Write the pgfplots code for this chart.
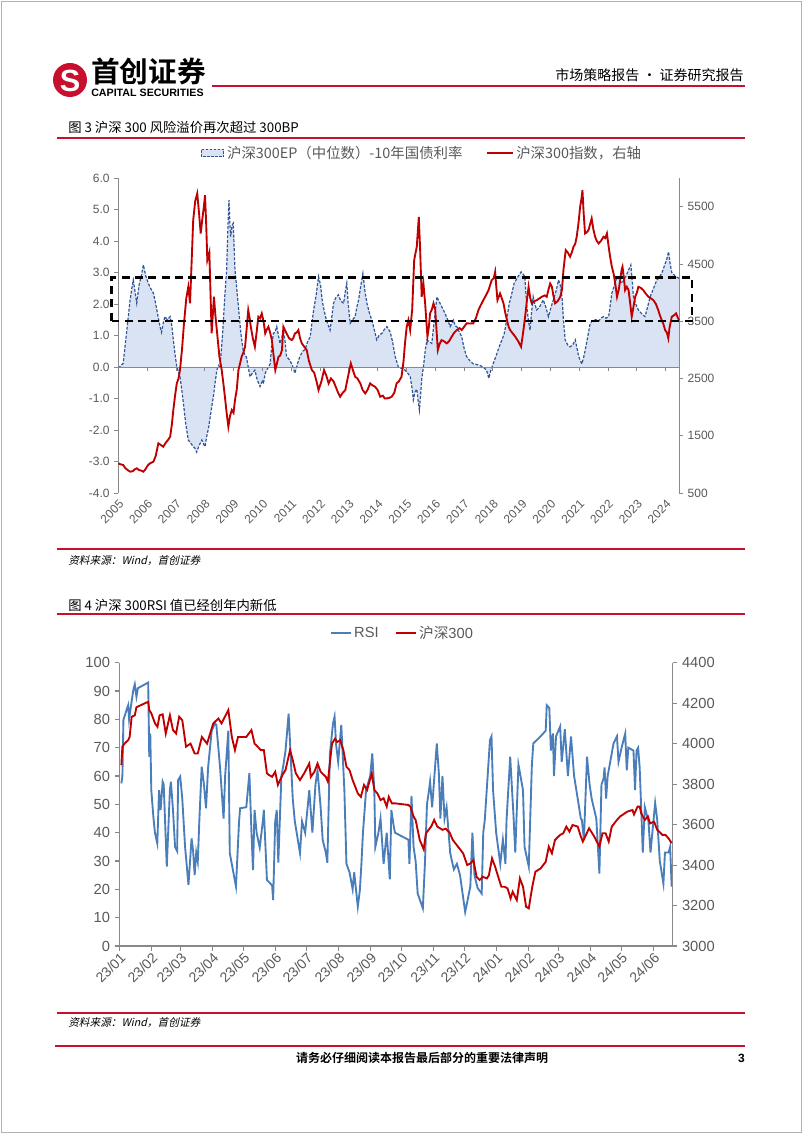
\documentclass[border=0pt]{standalone}
\usepackage{fontspec}
\setmainfont{Liberation Sans}
\newfontfamily\cjk{Noto Sans CJK SC}[BoldFont={Noto Sans CJK SC Bold}]
\newfontfamily\cjkit{Noto Sans CJK SC}[FakeSlant=0.22]
\usepackage{pgfplots}
\usepackage{pgfplotstable}
\pgfplotsset{compat=1.18}
\pgfplotsset{/pgf/number format/assume math mode=true, /pgf/number format/1000 sep={}}

\definecolor{hdred}{HTML}{C8102E}
\definecolor{idxred}{HTML}{C00000}
\definecolor{epblue}{HTML}{2F5597}
\definecolor{epfill}{HTML}{DAE3F3}
\definecolor{rsiblue}{HTML}{4A7EBB}
\definecolor{axgray}{HTML}{898989}
\definecolor{txtgray}{HTML}{595959}

% HS300 EP (median) minus 10y bond yield, %
\pgfplotstableread{
x y
2005.00 -0.04
2005.10 0.05
2005.17 0.12
2005.30 1.2
2005.41 2.13
2005.47 2.5
2005.52 2.76
2005.58 2.4
2005.64 2.03
2005.72 2.6
2005.80 2.9
2005.87 3.24
2005.95 2.9
2006.04 2.66
2006.12 2.5
2006.22 2.34
2006.30 2.0
2006.38 1.6
2006.45 1.28
2006.50 1.1
2006.56 1.4
2006.62 1.6
2006.70 1.5
2006.80 1.6
2006.86 1.3
2006.91 0.86
2006.97 0.4
2007.03 0.0
2007.14 -0.31
2007.20 -0.7
2007.26 -1.15
2007.34 -1.8
2007.43 -2.32
2007.50 -2.4
2007.58 -2.5
2007.66 -2.58
2007.72 -2.70
2007.80 -2.5
2007.90 -2.32
2007.96 -2.45
2008.01 -2.53
2008.07 -2.2
2008.13 -1.95
2008.22 -1.4
2008.30 -0.94
2008.36 -0.5
2008.42 -0.1
2008.48 0.05
2008.53 0.0
2008.60 0.8
2008.65 1.49
2008.70 2.3
2008.76 3.08
2008.80 4.3
2008.84 5.3
2008.87 4.6
2008.90 4.14
2008.95 4.5
2008.99 4.56
2009.02 3.8
2009.05 3.08
2009.11 2.5
2009.17 1.91
2009.25 1.1
2009.34 0.49
2009.45 0.3
2009.51 0.0
2009.57 -0.31
2009.65 -0.2
2009.74 -0.1
2009.82 -0.4
2009.92 -0.62
2010.00 -0.45
2010.04 -0.5
2010.10 -0.2
2010.15 -0.1
2010.27 0.1
2010.32 0.6
2010.38 1.07
2010.44 1.1
2010.50 1.28
2010.56 1.0
2010.61 0.75
2010.67 0.9
2010.73 1.17
2010.79 0.8
2010.84 0.33
2010.92 0.25
2011.02 0.1
2011.08 -0.05
2011.13 -0.2
2011.22 0.1
2011.30 0.33
2011.40 0.5
2011.48 0.55
2011.57 0.8
2011.66 0.96
2011.72 1.4
2011.78 1.81
2011.87 2.3
2011.95 2.87
2012.02 2.6
2012.08 2.1
2012.14 1.81
2012.22 1.5
2012.30 1.3
2012.35 1.17
2012.41 1.6
2012.47 2.02
2012.55 2.2
2012.64 2.29
2012.72 2.1
2012.82 2.02
2012.88 2.4
2012.93 2.66
2012.98 2.0
2013.05 1.39
2013.13 1.5
2013.22 1.6
2013.28 1.9
2013.34 2.13
2013.42 2.6
2013.49 2.97
2013.56 2.4
2013.63 2.02
2013.72 1.7
2013.80 1.49
2013.88 1.2
2013.97 0.86
2014.05 1.0
2014.15 1.07
2014.24 1.2
2014.32 1.28
2014.38 1.2
2014.44 1.1
2014.52 0.8
2014.61 0.33
2014.67 0.15
2014.72 0.0
2014.84 -0.05
2014.95 -0.1
2015.05 -0.2
2015.13 -0.3
2015.20 -0.7
2015.24 -1.05
2015.30 -0.8
2015.36 -0.7
2015.41 -1.1
2015.45 -1.37
2015.50 -0.8
2015.53 -0.4
2015.59 0.0
2015.65 0.5
2015.71 0.86
2015.80 0.8
2015.88 0.75
2015.97 1.5
2016.06 2.23
2016.12 2.1
2016.18 2.0
2016.26 1.85
2016.34 1.7
2016.43 1.5
2016.52 1.28
2016.58 1.4
2016.63 1.49
2016.70 1.3
2016.75 1.28
2016.84 1.1
2016.92 0.96
2017.00 0.6
2017.09 0.33
2017.20 0.2
2017.32 0.1
2017.44 0.08
2017.55 0.05
2017.66 0.0
2017.78 -0.1
2017.86 -0.36
2017.93 -0.1
2018.05 0.2
2018.13 0.4
2018.22 0.64
2018.31 0.85
2018.40 1.07
2018.48 1.5
2018.57 2.02
2018.65 2.3
2018.74 2.66
2018.86 2.85
2018.98 3.02
2019.05 2.95
2019.11 2.87
2019.17 2.02
2019.23 1.5
2019.29 1.17
2019.35 1.8
2019.40 2.23
2019.46 2.0
2019.52 1.81
2019.62 1.9
2019.75 2.13
2019.84 1.9
2019.93 1.6
2020.02 1.9
2020.10 2.13
2020.19 2.4
2020.28 2.76
2020.34 2.6
2020.40 2.23
2020.45 1.5
2020.51 0.86
2020.60 0.7
2020.68 0.64
2020.77 0.7
2020.86 0.86
2020.92 0.6
2020.98 0.33
2021.04 0.2
2021.09 0.1
2021.15 0.3
2021.21 0.55
2021.30 1.0
2021.38 1.39
2021.44 1.45
2021.50 1.49
2021.58 1.5
2021.67 1.45
2021.75 1.55
2021.84 1.6
2021.93 1.55
2022.02 1.6
2022.08 2.0
2022.13 2.34
2022.22 2.6
2022.31 2.87
2022.40 2.75
2022.48 2.66
2022.57 2.8
2022.66 2.97
2022.72 3.1
2022.79 3.24
2022.84 2.7
2022.88 2.23
2022.96 2.0
2023.05 1.81
2023.16 1.7
2023.28 1.6
2023.37 1.9
2023.46 2.23
2023.58 2.5
2023.69 2.76
2023.78 2.85
2023.86 2.97
2023.95 3.2
2024.03 3.4
2024.10 3.66
2024.15 3.3
2024.21 3.0
2024.27 2.95
2024.33 2.87
2024.40 2.85
2024.46 2.81
}\eptable

% HS300 index (right axis)
\pgfplotstableread{
x y
2005.00 1018
2005.08 1000
2005.17 989
2005.25 930
2005.33 900
2005.41 872
2005.50 880
2005.56 910
2005.64 931
2005.72 900
2005.80 890
2005.87 872
2005.95 920
2006.02 980
2006.10 1018
2006.22 1047
2006.30 1150
2006.39 1367
2006.47 1340
2006.56 1308
2006.65 1380
2006.73 1430
2006.80 1483
2006.86 1700
2006.91 1949
2006.97 2200
2007.03 2414
2007.09 2500
2007.14 2646
2007.21 3000
2007.28 3462
2007.36 3900
2007.43 4100
2007.49 3811
2007.55 4600
2007.60 5264
2007.67 5600
2007.74 5730
2007.80 5400
2007.86 5032
2007.92 5300
2007.97 5500
2008.01 5700
2008.05 5200
2008.09 4566
2008.16 4700
2008.24 3287
2008.32 3926
2008.37 3600
2008.42 3345
2008.51 2879
2008.59 2646
2008.65 2400
2008.70 2181
2008.76 1900
2008.82 1657
2008.88 1850
2008.94 1949
2009.00 1900
2009.05 2123
2009.11 2300
2009.17 2646
2009.22 2750
2009.28 2879
2009.34 2950
2009.40 3053
2009.46 3400
2009.51 3694
2009.56 3550
2009.60 3400
2009.67 3200
2009.74 3053
2009.80 3300
2009.86 3577
2009.92 3550
2009.98 3635
2010.04 3500
2010.10 3287
2010.15 3350
2010.21 3403
2010.27 3300
2010.33 3170
2010.39 2900
2010.45 2646
2010.50 2750
2010.56 2879
2010.62 2900
2010.68 2995
2010.73 3403
2010.78 3350
2010.84 3287
2010.93 3200
2011.02 3170
2011.07 3200
2011.13 3287
2011.19 3300
2011.25 3345
2011.31 3200
2011.37 3112
2011.46 3050
2011.54 2995
2011.62 2800
2011.72 2646
2011.80 2600
2011.88 2450
2011.95 2297
2012.05 2450
2012.14 2646
2012.22 2550
2012.30 2414
2012.38 2500
2012.47 2450
2012.55 2350
2012.63 2250
2012.70 2181
2012.79 2250
2012.88 2297
2012.96 2500
2013.07 2763
2013.14 2650
2013.22 2530
2013.30 2500
2013.40 2414
2013.48 2300
2013.57 2239
2013.65 2300
2013.74 2414
2013.82 2380
2013.91 2356
2014.00 2300
2014.09 2181
2014.18 2200
2014.25 2150
2014.32 2152
2014.40 2160
2014.49 2181
2014.58 2250
2014.66 2414
2014.74 2450
2014.83 2530
2014.90 2800
2014.95 3112
2015.01 3400
2015.07 3519
2015.13 3345
2015.20 3700
2015.27 4566
2015.32 4700
2015.36 4800
2015.40 5100
2015.43 5322
2015.46 4950
2015.48 4700
2015.53 3926
2015.59 4158
2015.65 3811
2015.73 3228
2015.78 3400
2015.82 3636
2015.88 3700
2015.94 3811
2016.00 3700
2016.03 3462
2016.09 2996
2016.15 3100
2016.22 3170
2016.30 3150
2016.40 3112
2016.48 3150
2016.57 3228
2016.66 3300
2016.75 3345
2016.84 3380
2016.92 3345
2017.00 3400
2017.09 3462
2017.20 3460
2017.32 3462
2017.41 3550
2017.50 3694
2017.58 3780
2017.67 3868
2017.76 3950
2017.85 4042
2017.96 4217
2018.03 4250
2018.08 4362
2018.12 4100
2018.16 3868
2018.25 3984
2018.31 3900
2018.37 3811
2018.43 3650
2018.49 3519
2018.55 3400
2018.60 3345
2018.70 3280
2018.78 3228
2018.88 3150
2018.98 3053
2019.05 3300
2019.12 3577
2019.18 3850
2019.24 4100
2019.30 3900
2019.35 3811
2019.44 3850
2019.53 3868
2019.62 3900
2019.70 3926
2019.80 3950
2019.87 3926
2019.93 4050
2019.99 4158
2020.05 4100
2020.10 3950
2020.16 3811
2020.25 3850
2020.34 3926
2020.40 4050
2020.45 4392
2020.53 4741
2020.60 4700
2020.68 4625
2020.74 4700
2020.80 4800
2020.86 4850
2020.91 4973
2020.97 5200
2021.03 5497
2021.08 5650
2021.11 5788
2021.15 5400
2021.20 5032
2021.26 5050
2021.32 5090
2021.38 5200
2021.43 5294
2021.49 5100
2021.55 4973
2021.61 4900
2021.67 4858
2021.75 4900
2021.84 4973
2021.90 4950
2021.96 5032
2022.02 4800
2022.07 4625
2022.13 4450
2022.19 4334
2022.25 4150
2022.31 3926
2022.37 4050
2022.42 4217
2022.47 4400
2022.50 4450
2022.55 4250
2022.59 4042
2022.65 4100
2022.71 4042
2022.77 3800
2022.82 3577
2022.88 3750
2022.94 3926
2023.00 4000
2023.05 4100
2023.14 4080
2023.22 4042
2023.31 3980
2023.40 3926
2023.48 3900
2023.57 3868
2023.66 3800
2023.74 3694
2023.80 3600
2023.86 3519
2023.92 3450
2023.98 3345
2024.04 3300
2024.09 3200
2024.13 3380
2024.21 3577
2024.28 3600
2024.36 3636
2024.42 3560
2024.46 3519
}\idxtable

% RSI, x = days since 2023-01-01
\pgfplotstableread{
x y
2 57.4
3 60
4 79.8
7 83.3
8.6 85
9.5 80
11 84
13.6 90.4
15 92.4
16.6 88
18 91
28 93
29 66.8
30 75
31 55
33 45.6
34.5 40
36.8 36.2
38.5 55
40 48
42 58
43 57
46 28
49 55
50 58
52 48
54 35
56 33.5
57 58.6
59 59.8
61 52
63.7 35
67 21.5
70 38
71.5 33.5
73 25
74.5 33
76 29.8
77.5 44
79.8 63.3
82 57
84 48.6
86 63
89.5 76
92.7 78.6
94 78
97.6 63
101 45
102.5 60
105.6 76
107 32.8
113 21
116 44
117 48.6
123 49
126 61
128 40
129.5 26.8
131 48
133 40
136 34.7
139 44
140 48
143 23.3
148 21.4
149 16.2
151 44
152.5 48
154 29.4
157 60
159 64
161 69
164 82
166 67
168 52
170 44
175 32.8
177 44
180 40
184 55
187 40
190 57
192 62
195 49
197 37.4
200 33
201.5 29.4
204 68
207 78.6
208.5 81
210 71
212 65
215 78
218 55
220 29
223 26
226 20
227.5 26
231 13.9
233 19.7
234.5 29
236 40
239 55
243 60
245 68
247 55
248 35
251 40
253 45
256 29
259 40
262 23.5
263.5 48
265.5 43
267 40
280 37.5
281 29
283 53
285 35
287 30
289 18.5
294 13.3
296 29
298 50
300 55
301 58
303 49
307.5 71.5
309.5 61
311 45
313 60
315 45
317 49
320.5 32.8
324 27
327 29
330 25
335 12
340 21
342 40
344 25
347 20.5
351 18.5
352.5 40
354 44.5
359 72.7
360.5 74
362 55
365 40
369 29
371.5 37.5
374 29
375 44
378.6 66.8
381.8 46
383.5 33
386.6 64
391 55
392.5 35
396.6 28
399.6 64
401 71.5
408 74
413 76
414 85
416.5 84
418 69
420 75
421 60
423 74
427 77.5
428.5 65
431.5 76.5
434.5 60
437.5 74
440.5 60
444 52
447 45
448 44.5
450 37.5
453 66.8
455.5 57
457.5 52
462 45
465 25.6
467 57
469 59
470 63
471.5 52
473 60
478.7 71.5
482 74
483.5 65
486.5 70
490 75
491.5 62
493 70
498 69
499.5 55
501 69
502.5 70
504 63
506 43.5
507 33
509 49
512.5 44
514.5 33
519 50.5
521 44.5
523.5 30
527 22
528.5 33
532 33
533.5 35
535 21
}\rsitable

% HS300 close (right axis), x = days since 2023-01-01
\pgfplotstableread{
x y
2 3894
3 3985
5 4000
8.6 4017
10 4033
12 4133
15 4140
16.6 4180
28 4207
29 4166
31 4150
34.6 4100
37 4083
39 4140
42 4145
45 4050
49 4140
52 4067
55 4050
58 4133
61 4116
64.6 3985
69 4000
73 3951
76 3951
80 4033
85 4000
88 4050
91 4100
96 4124
99 4100
103 4140
105.6 4166
109 4033
112 3968
115 4033
123 4033
128 4067
131 4000
134 3985
137 3968
140 3968
143 3853
145 3845
148 3836
151 3861
153.6 3796
158 3845
161 3870
165.4 3968
168 3919
171 3853
175 3820
179 3853
184 3902
185.5 3836
189 3861
192 3902
195 3861
200 3836
202 3812
206 4000
209 4025
211 4008
214 4017
217 3968
220 3886
223 3869
226 3820
231 3754
234 3737
237 3796
240 3771
244.5 3853
247 3771
250 3754
253 3721
256 3730
259 3689
261 3737
264 3705
267 3705
280 3697
282 3688
285 3640
287 3623
291 3524
294.8 3478
297 3557
302 3590
305 3623
308 3590
313 3574
316 3580
320 3560
323 3524
328 3491
333 3458
337 3400
340 3408
343 3425
346 3342
349 3326
352 3342
356 3334
358 3350
361 3433
364 3392
367 3342
370 3293
373 3293
376 3285
379 3235
381 3268
385 3227
388 3334
391 3293
394 3194
396.6 3186
400 3293
403 3367
408 3383
413 3416
416 3491
419 3458
422 3524
427 3549
430 3557
433 3590
436 3565
439 3598
444 3590
447 3541
449 3516
452 3549
455 3582
460 3541
465 3491
468 3557
471 3557
474 3516
477 3590
482 3623
485 3640
488 3650
492 3664
497 3672
498.5 3650
502 3689
504 3689
505.5 3656
509 3623
512 3640
514 3606
518 3614
521 3574
523 3565
526 3549
529 3549
532 3532
535 3508
}\hstable

\begin{document}
\begin{tikzpicture}
\useasboundingbox (0,0) rectangle (601.5pt,849.75pt);

% ---------------- page furniture (pixel coordinates, y downwards)
\begin{scope}[x=0.75pt,y=-0.75pt,yshift=849.75pt]
\draw[gray!60, line width=0.5pt] (1,1) rectangle (801,1132);
\fill[hdred] (70,80) circle (17);
\node[white, font=\bfseries\fontsize{23}{23}\selectfont] at (70,81) {S};
\node[anchor=west, inner sep=0, font=\cjk\bfseries\fontsize{21.5}{23}\selectfont] at (91,72) {首创证券};
\node[anchor=west, inner sep=0, font=\bfseries\fontsize{8}{9}\selectfont] at (91,93) {CAPITAL SECURITIES};
\draw[hdred, line width=1.5pt] (212,86) -- (745,86);
\node[anchor=east, inner sep=0, font=\cjk\fontsize{10.5}{12}\selectfont] at (744,75) {市场策略报告 · 证券研究报告};
\node[anchor=west, inner sep=0, font=\cjk\fontsize{10}{12}\selectfont] at (68,127) {图 3 沪深 300 风险溢价再次超过 300BP};
\draw[hdred, line width=0.9pt] (57,138) -- (745,138);
\draw[hdred, line width=0.9pt] (57,549) -- (745,549);
\node[anchor=west, inner sep=0, font=\cjkit\fontsize{8}{10}\selectfont] at (68,561) {资料来源：Wind，首创证券};
\node[anchor=west, inner sep=0, font=\cjk\fontsize{10}{12}\selectfont] at (68,605) {图 4 沪深 300RSI 值已经创年内新低};
\draw[hdred, line width=0.9pt] (57,614) -- (745,614);
\draw[hdred, line width=0.9pt] (57,1013) -- (745,1013);
\node[anchor=west, inner sep=0, font=\cjkit\fontsize{8}{10}\selectfont] at (68,1023) {资料来源：Wind，首创证券};
\draw[hdred, line width=2.2pt] (55,1046) -- (745,1046);
\node[inner sep=0, font=\cjk\bfseries\fontsize{9}{11}\selectfont] at (422,1058) {请务必仔细阅读本报告最后部分的重要法律声明};
\node[anchor=east, inner sep=0, font=\bfseries\fontsize{9}{11}\selectfont] at (745,1058) {3};
\end{scope}

% ---------------- chart 1, left axis
\begin{axis}[
  at={(88.725pt,480pt)}, anchor=south west,
  scale only axis, width=420.5pt, height=236.25pt,
  xmin=2005, xmax=2024.46, ymin=-4, ymax=6,
  axis x line=middle, axis y line*=left,
  hide obscured x ticks=false, hide obscured y ticks=false,
  axis line style={axgray, line width=0.6pt, -},
  xtick={2005,...,2024},
  ytick={-4,-3,...,6},
  yticklabel={\pgfmathprintnumber[fixed,fixed zerofill,precision=1]{\tick}},
  tick style={axgray, line width=0.6pt},
  major tick length=3pt, tick align=outside,
  x tick label style={yshift=-94.5pt, rotate=45, anchor=north east, font=\fontsize{9}{10}\selectfont, text=txtgray, inner sep=1pt},
  y tick label style={font=\fontsize{9}{10}\selectfont, text=txtgray},
  axis on top,
]
\addplot[fill=epfill, draw=none] table {\eptable} \closedcycle;
\addplot[epblue, line width=0.9pt, dash pattern=on 2.2pt off 1.2pt] table {\eptable};
\end{axis}

% ---------------- chart 1, right axis
\begin{axis}[
  at={(88.725pt,480pt)}, anchor=south west,
  scale only axis, width=420.5pt, height=236.25pt,
  xmin=2005, xmax=2024.46, ymin=500, ymax=6000,
  axis x line=none, axis y line*=right,
  axis line style={axgray, line width=0.6pt},
  ytick={500,1500,...,5500}, scaled y ticks=false,
  tick style={axgray, line width=0.6pt},
  major tick length=3pt, tick align=outside,
  y tick label style={font=\fontsize{9}{10}\selectfont, text=txtgray},
  clip=false,
  legend style={at={(0.542,1.079)}, anchor=center, draw=none, fill=none,
    legend columns=2, font=\cjk\fontsize{10.8}{12}\selectfont, text=txtgray,
    /tikz/every even column/.append style={column sep=16pt}},
  legend image code/.code={\draw[#1] (0pt,0pt) -- (19pt,0pt);},
]
\addlegendimage{area legend, draw=epblue, fill=epfill, line width=0.8pt, dash pattern=on 2pt off 1pt}
\addlegendentry{沪深300EP（中位数）-10年国债利率}
\addplot[idxred, line width=1.4pt] table {\idxtable};
\addlegendentry{沪深300指数，右轴}
\draw[black, line width=1.8pt, dash pattern=on 6pt off 4pt] (axis cs:2004.77,3507) rectangle (axis cs:2024.92,4264);
\end{axis}

% ---------------- chart 2, left axis (RSI)
\begin{axis}[
  at={(89.475pt,140.25pt)}, anchor=south west,
  scale only axis, width=415.05pt, height=212.475pt,
  xmin=0, xmax=536, ymin=0, ymax=100,
  axis x line*=bottom, axis y line*=left,
  axis line style={axgray, line width=0.8pt},
  xtick={0,31,59,90,120,151,181,212,243,273,304,334,365,396,425,456,486,517},
  xticklabels={23/01,23/02,23/03,23/04,23/05,23/06,23/07,23/08,23/09,23/10,23/11,23/12,24/01,24/02,24/03,24/04,24/05,24/06},
  ytick={0,10,...,100},
  tick style={axgray, line width=0.8pt},
  major tick length=3.5pt, tick align=outside,
  x tick label style={rotate=45, anchor=north east, font=\fontsize{10.5}{12}\selectfont, text=txtgray, inner sep=0.5pt},
  y tick label style={font=\fontsize{11}{12}\selectfont, text=txtgray},
]
\addplot[rsiblue, line width=1.4pt] table {\rsitable};
\end{axis}

% ---------------- chart 2, right axis (HS300)
\begin{axis}[
  at={(89.475pt,140.25pt)}, anchor=south west,
  scale only axis, width=415.05pt, height=212.475pt,
  xmin=0, xmax=536, ymin=3000, ymax=4400,
  axis x line=none, axis y line*=right,
  axis line style={axgray, line width=0.8pt},
  ytick={3000,3200,...,4400}, scaled y ticks=false,
  tick style={axgray, line width=0.8pt},
  major tick length=3.5pt, tick align=outside,
  y tick label style={font=\fontsize{11}{12}\selectfont, text=txtgray},
  legend style={at={(0.512,1.105)}, anchor=center, draw=none, fill=none,
    legend columns=2, font=\fontsize{11}{12}\selectfont, text=txtgray,
    /tikz/every even column/.append style={column sep=10pt}},
  legend image code/.code={\draw[#1] (0pt,0pt) -- (15pt,0pt);},
]
\addlegendimage{rsiblue, line width=1.4pt}
\addlegendentry{RSI}
\addplot[idxred, line width=1.4pt] table {\hstable};
\addlegendentry{{\cjk 沪深}300}
\end{axis}
\end{tikzpicture}
\end{document}
